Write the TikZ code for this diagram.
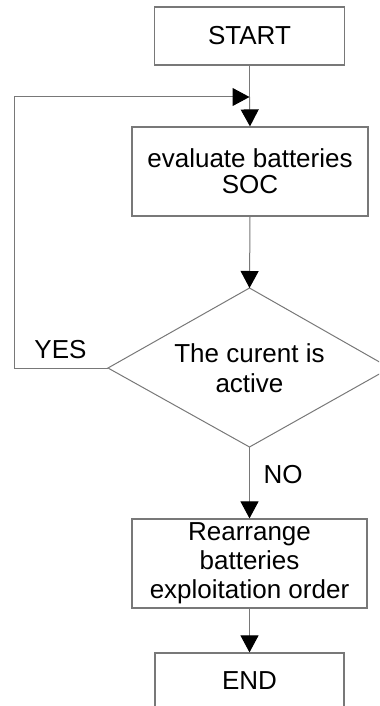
\documentclass[tikz,border=0pt]{standalone}
\usepackage{fontspec}
\setmainfont{Liberation Sans}
\usetikzlibrary{arrows.meta}
\definecolor{linegray}{RGB}{120,120,120}
\begin{document}
\begin{tikzpicture}[x=1bp,y=-1bp,
  box/.style={draw=linegray, line width=1.2bp, inner sep=0pt, align=center},
  txt/.style={font=\fontsize{26bp}{29bp}\selectfont},
  conn/.style={draw=linegray, line width=1bp, -{Triangle[length=17bp,width=18bp,color=black]}},
  lbl/.style={txt, inner sep=0pt}]
\useasboundingbox (0,0) rectangle (379,706);
\clip (0,0) rectangle (379,706);
% boxes
\node[box, txt, minimum width=190bp, minimum height=58bp] (start) at (249.5,36) {START};
\node[box, font=\fontsize{26bp}{26bp}\selectfont, minimum width=236bp, minimum height=89bp] (eval) at (250,171.5) {evaluate batteries\\SOC};
\node[box, font=\fontsize{26bp}{29bp}\selectfont, minimum width=235bp, minimum height=89bp] (rearr) at (249.5,563.5) {Rearrange\\batteries\\exploitation order};
\node[box, txt, minimum width=189bp, minimum height=56bp] (end) at (249.5,681) {END};
% decision diamond
\coordinate (dtop) at (249.5,288);
\coordinate (dright) at (390,368);
\coordinate (dbot) at (249.5,447);
\coordinate (dleft) at (108,368);
\draw[linegray, line width=1bp] (dtop) -- (dright) -- (dbot) -- (dleft) -- cycle;
\node[inner sep=0pt, align=center, font=\fontsize{26bp}{30bp}\selectfont] (dec) at (249.5,368) {The curent is\\active};
% connectors
\coordinate (join) at (249.5,97);
\coordinate (loopcorner) at (14,97);
\draw[linegray, line width=1bp] (start.south) -- (join);
\draw[conn] (join) -- (eval.north);
\draw[conn] (dleft) -| (loopcorner) -- (join);
\draw[conn] (eval.south) -- (dtop);
\draw[conn] (dbot) -- (rearr.north);
\draw[conn] (rearr.south) -- (end.north);
% labels
\node[lbl] (yes) at (60.5,350) {YES};
\node[lbl] (no) at (283,475) {NO};
\end{tikzpicture}
\end{document}
